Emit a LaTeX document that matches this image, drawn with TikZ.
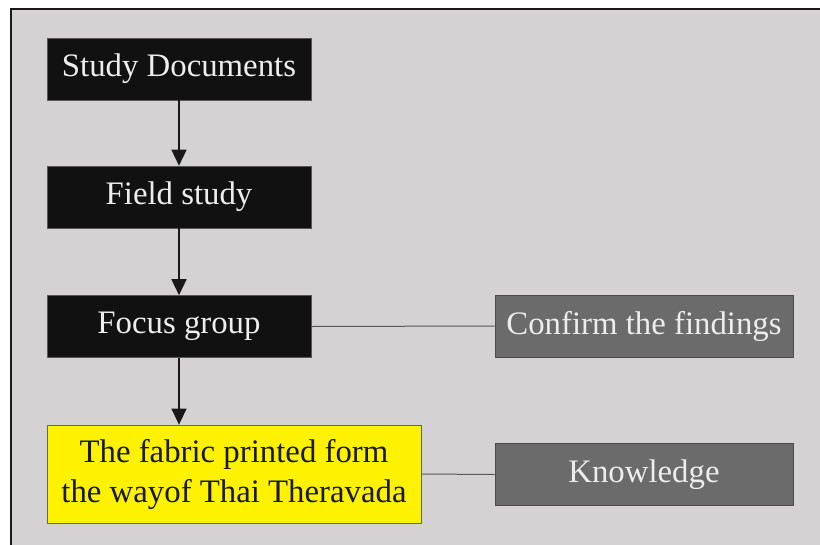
\documentclass[tikz,border=0pt]{standalone}
\usepackage{fontspec}
\setmainfont{Liberation Serif}
\usetikzlibrary{arrows.meta}
\definecolor{panel}{HTML}{D4D2D3}
\definecolor{darkbox}{HTML}{111111}
\definecolor{greybox}{HTML}{6B6B6B}
\definecolor{yellowbox}{HTML}{FFF200}
\tikzset{
  box/.style={rectangle, inner sep=0pt, font=\fontsize{32.8}{40}\selectfont, align=center},
  blackbox/.style={box, fill=darkbox, draw=darkbox!70!white, line width=0.6pt, text=white!93!black, minimum width=264pt, minimum height=62pt},
  greyboxst/.style={box, fill=greybox, draw=black!70, line width=0.8pt, text=white!93!black, minimum width=298pt, minimum height=62pt},
  yellowst/.style={box, fill=yellowbox, draw=black!60, line width=0.8pt, text=black!90, minimum width=374pt, minimum height=98pt},
  flowarrow/.style={draw=black!90, line width=1.5pt, -{Triangle[width=15pt,length=16pt]}},
  link/.style={draw=black!65, line width=1pt}
}
\begin{document}
\begin{tikzpicture}[x=1pt,y=-1pt]
\useasboundingbox (0,0) rectangle (820,544);
\fill[panel] (10,9) rectangle (822,546);
\draw[black!90, line width=2pt] (11,546) -- (11,9) -- (822,9);
\node[blackbox] (sd) at (179,69) {Study Documents};
\node[blackbox] (fs) at (179,197) {Field study};
\node[blackbox] (fg) at (179,326.5) {Focus group};
\node[yellowst] (yb) at (234,474) {The fabric printed form\\the wayof Thai Theravada};
\node[greyboxst] (cf) at (644,326) {Confirm the findings};
\node[greyboxst] (kn) at (644,474.5) {Knowledge};
\draw[flowarrow] (sd.south) -- (fs.north);
\draw[flowarrow] (fs.south) -- (fg.north);
\draw[flowarrow] (fg.south) -- (fg.south |- yb.north);
\draw[link] (fg.east) -- (cf.west);
\draw[link] (yb.east) -- (kn.west);
\end{tikzpicture}
\end{document}
